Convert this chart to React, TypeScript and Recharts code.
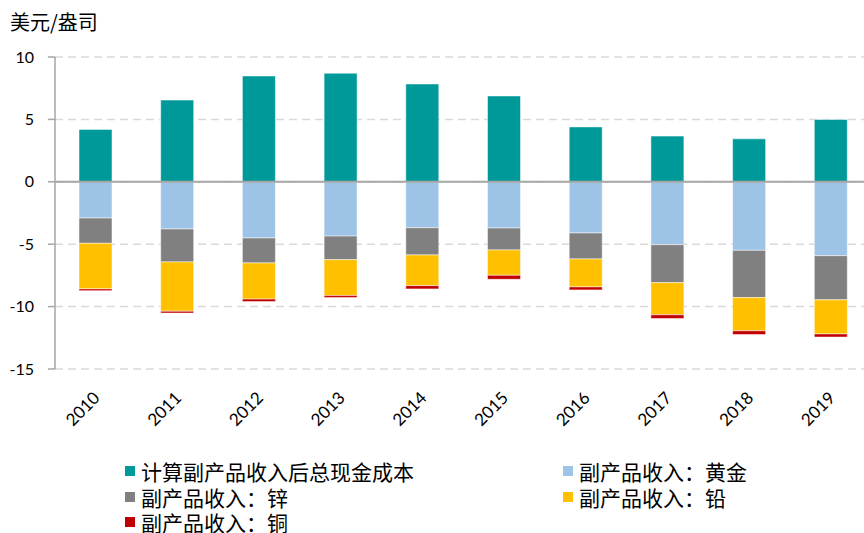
import { BarChart, Bar, XAxis, YAxis, CartesianGrid, ReferenceLine } from 'recharts';

const years = ['2010', '2011', '2012', '2013', '2014', '2015', '2016', '2017', '2018', '2019'];
const cashCost = [4.2, 6.55, 8.48, 8.7, 7.84, 6.88, 4.4, 3.66, 3.44, 4.99];
const gold = [-2.9, -3.78, -4.5, -4.35, -3.68, -3.7, -4.1, -5.04, -5.49, -5.92];
const zinc = [-2.03, -2.64, -2.0, -1.89, -2.18, -1.76, -2.08, -3.04, -3.79, -3.54];
const lead = [-3.65, -3.95, -2.9, -2.88, -2.46, -2.03, -2.24, -2.58, -2.66, -2.73];
const copper = [-0.14, -0.15, -0.2, -0.16, -0.26, -0.32, -0.24, -0.29, -0.3, -0.25];
const yTicks = [-15, -10, -5, 0, 5, 10];

const SERIES = [
  { key: 'cash', name: '计算副产品收入后总现金成本', color: '#009999' },
  { key: 'gold', name: '副产品收入：黄金', color: '#9DC3E6' },
  { key: 'zinc', name: '副产品收入：锌', color: '#808080' },
  { key: 'lead', name: '副产品收入：铅', color: '#FFC000' },
  { key: 'copper', name: '副产品收入：铜', color: '#C00000' },
];

const data = years.map((year, i) => ({
  year,
  cash: cashCost[i],
  gold: gold[i],
  zinc: zinc[i],
  lead: lead[i],
  copper: copper[i],
}));

const NUM_FONT = 'Lato, "Noto Sans", sans-serif';
const CJK_FONT = '"Noto Sans CJK SC", "Noto Sans", sans-serif';

function YearTick({ x, y, payload }: any) {
  return (
    <g transform={`translate(${x + 5},${y + 22})`}>
      <text transform="rotate(-45)" textAnchor="end" fontSize={17} fontFamily={NUM_FONT} fill="#000">
        {payload.value}
      </text>
    </g>
  );
}

// legend laid out in two columns like the original
const legendSlots = [
  { s: SERIES[0], left: 125, top: 471 },
  { s: SERIES[1], left: 563, top: 471 },
  { s: SERIES[2], left: 125, top: 497 },
  { s: SERIES[3], left: 563, top: 497 },
  { s: SERIES[4], left: 125, top: 522 },
];

export default function App() {
  return (
    <div style={{ position: 'absolute', left: 0, top: 0, width: 864, height: 533, overflow: 'hidden', background: '#fff' }}>
      <div style={{ position: 'absolute', left: 10, top: 10, fontSize: 20, fontFamily: CJK_FONT, color: '#000', lineHeight: '24px' }}>
        美元/盎司
      </div>
      <BarChart
        width={880}
        height={533}
        data={data}
        stackOffset="sign"
        barSize={33}
        margin={{ top: 57, right: 8, bottom: 104, left: 0 }}
      >
        <CartesianGrid vertical={false} stroke="#D9D9D9" strokeDasharray="8 5" strokeWidth={1.5} />
        <XAxis
          dataKey="year"
          axisLine={false}
          tickLine={false}
          interval={0}
          height={60}
          tick={<YearTick />}
        />
        <YAxis
          domain={[-15, 10]}
          ticks={yTicks}
          width={55}
          tickSize={7}
          tickMargin={14}
          axisLine={{ stroke: '#A6A6A6', strokeWidth: 1.5 }}
          tickLine={{ stroke: '#A6A6A6', strokeWidth: 1.5 }}
          tick={{ fontSize: 16, fill: '#000', fontFamily: NUM_FONT }}
        />
        {SERIES.map((s) => (
          <Bar
            key={s.key}
            dataKey={s.key}
            name={s.name}
            stackId="a"
            fill={s.color}
            stroke="#fff"
            strokeWidth={0.5}
            isAnimationActive={false}
          />
        ))}
        <ReferenceLine y={0} stroke="#A6A6A6" strokeWidth={2} />
      </BarChart>
      {legendSlots.map(({ s, left, top }) => (
        <div
          key={s.key}
          style={{
            position: 'absolute',
            left,
            top: top - 11,
            height: 22,
            lineHeight: '22px',
            display: 'flex',
            alignItems: 'center',
            fontFamily: CJK_FONT,
            fontSize: 21,
            color: '#000',
            whiteSpace: 'nowrap',
          }}
        >
          <span style={{ display: 'inline-block', width: 10, height: 10, background: s.color, marginRight: 6 }} />
          {s.name}
        </div>
      ))}
    </div>
  );
}
